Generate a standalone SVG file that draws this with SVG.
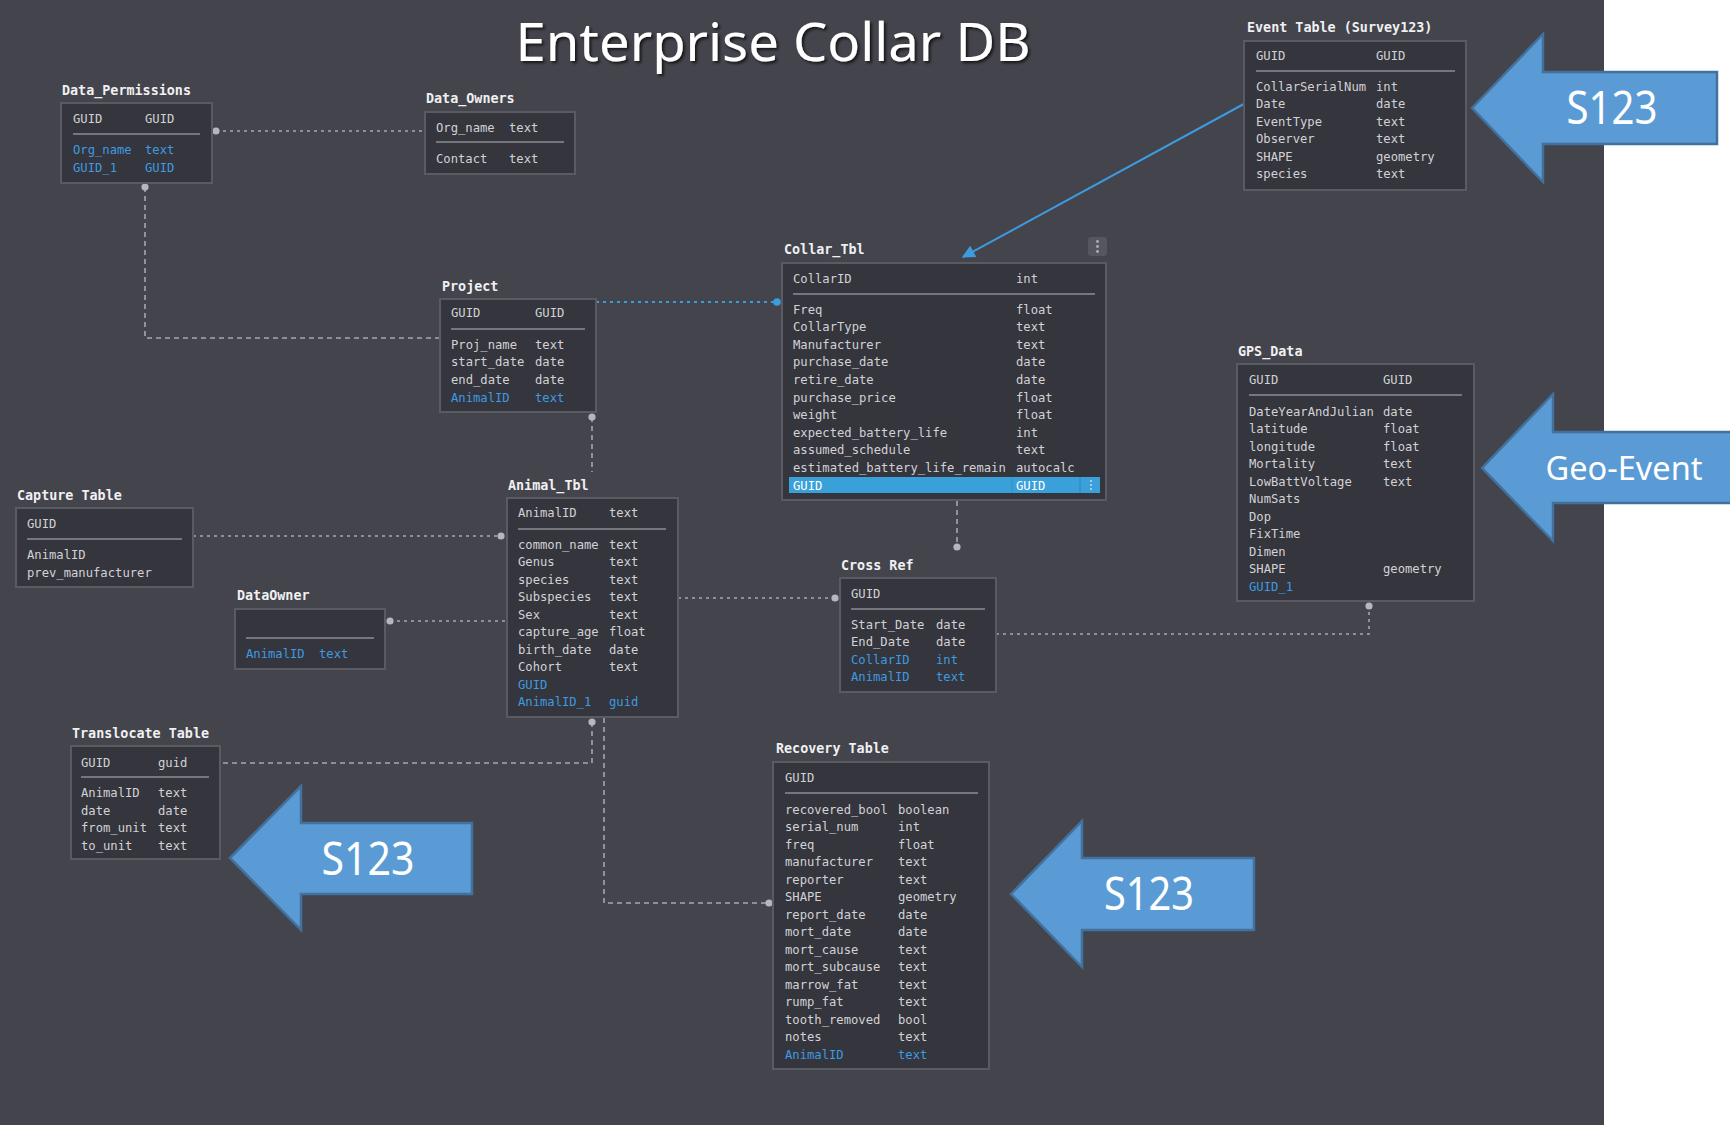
<svg xmlns="http://www.w3.org/2000/svg" width="1730" height="1125" viewBox="0 0 1730 1125">
<defs>
<style>
.bg{fill:#44444c}
.box{fill:#35353d;stroke:#5a5a63;stroke-width:2}
.sep{stroke:#76767e;stroke-width:2}
.lbl{font-family:"DejaVu Sans Mono","Liberation Mono",monospace;font-size:13.4px;font-weight:bold;fill:#f0f0f2}
.t{font-family:"DejaVu Sans Mono","Liberation Mono",monospace;font-size:12.2px;fill:#d2d2d6}
.b{fill:#3d9be0}
.w{fill:#ffffff}
.con{fill:none;stroke:#a6a6ae;stroke-width:1.6;stroke-dasharray:3 4}
.conv{fill:none;stroke:#a6a6ae;stroke-width:1.6;stroke-dasharray:5 4}
.conb{fill:none;stroke:#3d9be0;stroke-width:1.8;stroke-dasharray:3 4}
.dot{fill:#b6b6be}
.arrow{fill:#5b9bd5;stroke:#41719c;stroke-width:2.5}
.big{font-family:"Noto Sans","Open Sans",sans-serif;fill:#ffffff;text-anchor:middle}
</style>
<filter id="sh" x="-10%" y="-30%" width="120%" height="160%">
<feDropShadow dx="2" dy="2" stdDeviation="1.5" flood-color="#000" flood-opacity="0.7"/>
</filter>
<marker id="ah" viewBox="0 0 10 10" refX="9" refY="5" markerWidth="15" markerHeight="13" orient="auto" markerUnits="userSpaceOnUse">
<path d="M0,0 L10,5 L0,10 z" fill="#3d9be0"/>
</marker>
</defs>
<rect x="0" y="0" width="1730" height="1125" fill="#ffffff"/>
<rect class="bg" x="0" y="0" width="1604" height="1125"/>

<text class="big" x="773" y="61" font-size="53" textLength="515" lengthAdjust="spacingAndGlyphs" filter="url(#sh)">Enterprise Collar DB</text>

<g id="connectors">
<path class="con" d="M216,131 H424"/>
<circle class="dot" cx="216" cy="131" r="3.6"/>
<path class="conv" d="M145,187 V338 H440"/>
<circle class="dot" cx="145" cy="187" r="3.6"/>
<path class="conb" d="M596,302 H777"/>
<circle cx="777" cy="302" r="3.8" fill="#3d9be0"/>
<path class="conv" d="M592,417 V472"/>
<circle class="dot" cx="592" cy="417" r="3.6"/>
<path class="con" d="M193,536 H501"/>
<circle class="dot" cx="501" cy="536" r="3.6"/>
<path class="con" d="M390,621 H507"/>
<circle class="dot" cx="390" cy="621" r="3.6"/>
<path class="con" d="M678,598 H835"/>
<circle class="dot" cx="835" cy="598" r="3.6"/>
<path class="conv" d="M957,501 V547"/>
<circle class="dot" cx="957" cy="547" r="3.6"/>
<path class="con" d="M996,634 H1369 V606"/>
<circle class="dot" cx="1369" cy="606" r="3.6"/>
<path class="conv" d="M592,722 V763 H220"/>
<circle class="dot" cx="592" cy="722" r="3.6"/>
<path class="conv" d="M604,718 V903 H769"/>
<circle class="dot" cx="769" cy="903" r="3.6"/>
<path d="M1253,99 L963,257" stroke="#3d9be0" stroke-width="2" fill="none" marker-end="url(#ah)"/>
</g>

<g id="Data_Permissions">
<text class="lbl" x="62" y="95">Data_Permissions</text>
<rect class="box" x="61" y="103" width="151" height="80"/>
<text class="t" x="73" y="122.5">GUID</text><text class="t" x="145" y="122.5">GUID</text>
<line class="sep" x1="73" y1="134" x2="200" y2="134"/>
<text class="t b" x="73" y="153.5">Org_name</text><text class="t b" x="145" y="153.5">text</text>
<text class="t b" x="73" y="171.5">GUID_1</text><text class="t b" x="145" y="171.5">GUID</text>
</g>

<g id="Data_Owners">
<text class="lbl" x="426" y="103">Data_Owners</text>
<rect class="box" x="425" y="112" width="150" height="62"/>
<text class="t" x="436" y="131.5">Org_name</text><text class="t" x="509" y="131.5">text</text>
<line class="sep" x1="436" y1="142" x2="564" y2="142"/>
<text class="t" x="436" y="162.5">Contact</text><text class="t" x="509" y="162.5">text</text>
</g>

<g id="Project">
<text class="lbl" x="442" y="291">Project</text>
<rect class="box" x="440" y="299" width="156" height="113"/>
<text class="t" x="451" y="316.5">GUID</text><text class="t" x="535" y="316.5">GUID</text>
<line class="sep" x1="451" y1="329" x2="585" y2="329"/>
<text class="t" x="451" y="348.5">Proj_name</text><text class="t" x="535" y="348.5">text</text>
<text class="t" x="451" y="365.5">start_date</text><text class="t" x="535" y="365.5">date</text>
<text class="t" x="451" y="383.5">end_date</text><text class="t" x="535" y="383.5">date</text>
<text class="t b" x="451" y="401.5">AnimalID</text><text class="t b" x="535" y="401.5">text</text>
</g>

<g id="Collar_Tbl">
<text class="lbl" x="784" y="254">Collar_Tbl</text>
<rect x="1088" y="237" width="19" height="19" rx="3" fill="#56565f"/>
<circle cx="1097.5" cy="241.5" r="1.4" fill="#b0b0b8"/><circle cx="1097.5" cy="246.5" r="1.4" fill="#b0b0b8"/><circle cx="1097.5" cy="251.5" r="1.4" fill="#b0b0b8"/>
<rect class="box" x="782" y="263" width="324" height="237"/>
<text class="t" x="793" y="282.5">CollarID</text><text class="t" x="1016" y="282.5">int</text>
<line class="sep" x1="793" y1="294" x2="1095" y2="294"/>
<text class="t" x="793" y="313.5">Freq</text><text class="t" x="1016" y="313.5">float</text>
<text class="t" x="793" y="330.5">CollarType</text><text class="t" x="1016" y="330.5">text</text>
<text class="t" x="793" y="348.5">Manufacturer</text><text class="t" x="1016" y="348.5">text</text>
<text class="t" x="793" y="365.5">purchase_date</text><text class="t" x="1016" y="365.5">date</text>
<text class="t" x="793" y="383.5">retire_date</text><text class="t" x="1016" y="383.5">date</text>
<text class="t" x="793" y="401.5">purchase_price</text><text class="t" x="1016" y="401.5">float</text>
<text class="t" x="793" y="418.5">weight</text><text class="t" x="1016" y="418.5">float</text>
<text class="t" x="793" y="436.5">expected_battery_life</text><text class="t" x="1016" y="436.5">int</text>
<text class="t" x="793" y="453.5">assumed_schedule</text><text class="t" x="1016" y="453.5">text</text>
<text class="t" x="793" y="471.5">estimated_battery_life_remain</text><text class="t" x="1016" y="471.5">autocalc</text>
<rect x="789" y="477" width="311" height="16" fill="#3aa0da"/>
<line x1="1012" y1="477" x2="1012" y2="493" stroke="#3490c8" stroke-width="1"/>
<line x1="1080" y1="477" x2="1080" y2="493" stroke="#2f86bc" stroke-width="1"/>
<circle cx="1091" cy="481" r="0.9" fill="#cfe8f7"/><circle cx="1091" cy="485" r="0.9" fill="#cfe8f7"/><circle cx="1091" cy="489" r="0.9" fill="#cfe8f7"/>
<text class="t w" x="793" y="489.5">GUID</text><text class="t w" x="1016" y="489.5">GUID</text>
</g>

<g id="Event_Table">
<text class="lbl" x="1247" y="32">Event Table (Survey123)</text>
<rect class="box" x="1244" y="41" width="222" height="149"/>
<text class="t" x="1256" y="59.5">GUID</text><text class="t" x="1376" y="59.5">GUID</text>
<line class="sep" x1="1256" y1="71" x2="1455" y2="71"/>
<text class="t" x="1256" y="90.5">CollarSerialNum</text><text class="t" x="1376" y="90.5">int</text>
<text class="t" x="1256" y="108">Date</text><text class="t" x="1376" y="108">date</text>
<text class="t" x="1256" y="125.5">EventType</text><text class="t" x="1376" y="125.5">text</text>
<text class="t" x="1256" y="143">Observer</text><text class="t" x="1376" y="143">text</text>
<text class="t" x="1256" y="160.5">SHAPE</text><text class="t" x="1376" y="160.5">geometry</text>
<text class="t" x="1256" y="178">species</text><text class="t" x="1376" y="178">text</text>
</g>

<g id="GPS_Data">
<text class="lbl" x="1238" y="356">GPS_Data</text>
<rect class="box" x="1237" y="364" width="237" height="237"/>
<text class="t" x="1249" y="383.5">GUID</text><text class="t" x="1383" y="383.5">GUID</text>
<line class="sep" x1="1249" y1="395" x2="1462" y2="395"/>
<text class="t" x="1249" y="415.5">DateYearAndJulian</text><text class="t" x="1383" y="415.5">date</text>
<text class="t" x="1249" y="433">latitude</text><text class="t" x="1383" y="433">float</text>
<text class="t" x="1249" y="450.5">longitude</text><text class="t" x="1383" y="450.5">float</text>
<text class="t" x="1249" y="468">Mortality</text><text class="t" x="1383" y="468">text</text>
<text class="t" x="1249" y="485.5">LowBattVoltage</text><text class="t" x="1383" y="485.5">text</text>
<text class="t" x="1249" y="503">NumSats</text>
<text class="t" x="1249" y="520.5">Dop</text>
<text class="t" x="1249" y="538">FixTime</text>
<text class="t" x="1249" y="555.5">Dimen</text>
<text class="t" x="1249" y="573">SHAPE</text><text class="t" x="1383" y="573">geometry</text>
<text class="t b" x="1249" y="590.5">GUID_1</text>
</g>

<g id="Capture_Table">
<text class="lbl" x="17" y="500">Capture Table</text>
<rect class="box" x="16" y="508" width="177" height="79"/>
<text class="t" x="27" y="527.5">GUID</text>
<line class="sep" x1="27" y1="539" x2="182" y2="539"/>
<text class="t" x="27" y="558.5">AnimalID</text>
<text class="t" x="27" y="576.5">prev_manufacturer</text>
</g>

<g id="DataOwner">
<text class="lbl" x="237" y="600">DataOwner</text>
<rect class="box" x="235" y="609" width="150" height="60"/>
<line class="sep" x1="246" y1="638" x2="374" y2="638"/>
<text class="t b" x="246" y="657.5">AnimalID</text><text class="t b" x="319" y="657.5">text</text>
</g>

<g id="Animal_Tbl">
<text class="lbl" x="508" y="490">Animal_Tbl</text>
<rect class="box" x="507" y="498" width="171" height="219"/>
<text class="t" x="518" y="516.5">AnimalID</text><text class="t" x="609" y="516.5">text</text>
<line class="sep" x1="518" y1="529" x2="666" y2="529"/>
<text class="t" x="518" y="548.5">common_name</text><text class="t" x="609" y="548.5">text</text>
<text class="t" x="518" y="566">Genus</text><text class="t" x="609" y="566">text</text>
<text class="t" x="518" y="583.5">species</text><text class="t" x="609" y="583.5">text</text>
<text class="t" x="518" y="601">Subspecies</text><text class="t" x="609" y="601">text</text>
<text class="t" x="518" y="618.5">Sex</text><text class="t" x="609" y="618.5">text</text>
<text class="t" x="518" y="636">capture_age</text><text class="t" x="609" y="636">float</text>
<text class="t" x="518" y="653.5">birth_date</text><text class="t" x="609" y="653.5">date</text>
<text class="t" x="518" y="671">Cohort</text><text class="t" x="609" y="671">text</text>
<text class="t b" x="518" y="688.5">GUID</text>
<text class="t b" x="518" y="706">AnimalID_1</text><text class="t b" x="609" y="706">guid</text>
</g>

<g id="Cross_Ref">
<text class="lbl" x="841" y="570">Cross Ref</text>
<rect class="box" x="840" y="578" width="156" height="114"/>
<text class="t" x="851" y="597.5">GUID</text>
<line class="sep" x1="851" y1="609" x2="985" y2="609"/>
<text class="t" x="851" y="628.5">Start_Date</text><text class="t" x="936" y="628.5">date</text>
<text class="t" x="851" y="646">End_Date</text><text class="t" x="936" y="646">date</text>
<text class="t b" x="851" y="663.5">CollarID</text><text class="t b" x="936" y="663.5">int</text>
<text class="t b" x="851" y="681">AnimalID</text><text class="t b" x="936" y="681">text</text>
</g>

<g id="Translocate_Table">
<text class="lbl" x="72" y="738">Translocate Table</text>
<rect class="box" x="71" y="746" width="149" height="113"/>
<text class="t" x="81" y="766.5">GUID</text><text class="t" x="158" y="766.5">guid</text>
<line class="sep" x1="81" y1="777" x2="209" y2="777"/>
<text class="t" x="81" y="796.5">AnimalID</text><text class="t" x="158" y="796.5">text</text>
<text class="t" x="81" y="814.5">date</text><text class="t" x="158" y="814.5">date</text>
<text class="t" x="81" y="831.5">from_unit</text><text class="t" x="158" y="831.5">text</text>
<text class="t" x="81" y="849.5">to_unit</text><text class="t" x="158" y="849.5">text</text>
</g>

<g id="Recovery_Table">
<text class="lbl" x="776" y="753">Recovery Table</text>
<rect class="box" x="773" y="762" width="216" height="307"/>
<text class="t" x="785" y="781.5">GUID</text>
<line class="sep" x1="785" y1="793" x2="978" y2="793"/>
<text class="t" x="785" y="813.5">recovered_bool</text><text class="t" x="898" y="813.5">boolean</text>
<text class="t" x="785" y="831">serial_num</text><text class="t" x="898" y="831">int</text>
<text class="t" x="785" y="848.5">freq</text><text class="t" x="898" y="848.5">float</text>
<text class="t" x="785" y="866">manufacturer</text><text class="t" x="898" y="866">text</text>
<text class="t" x="785" y="883.5">reporter</text><text class="t" x="898" y="883.5">text</text>
<text class="t" x="785" y="901">SHAPE</text><text class="t" x="898" y="901">geometry</text>
<text class="t" x="785" y="918.5">report_date</text><text class="t" x="898" y="918.5">date</text>
<text class="t" x="785" y="936">mort_date</text><text class="t" x="898" y="936">date</text>
<text class="t" x="785" y="953.5">mort_cause</text><text class="t" x="898" y="953.5">text</text>
<text class="t" x="785" y="971">mort_subcause</text><text class="t" x="898" y="971">text</text>
<text class="t" x="785" y="988.5">marrow_fat</text><text class="t" x="898" y="988.5">text</text>
<text class="t" x="785" y="1006">rump_fat</text><text class="t" x="898" y="1006">text</text>
<text class="t" x="785" y="1023.5">tooth_removed</text><text class="t" x="898" y="1023.5">bool</text>
<text class="t" x="785" y="1041">notes</text><text class="t" x="898" y="1041">text</text>
<text class="t b" x="785" y="1058.5">AnimalID</text><text class="t b" x="898" y="1058.5">text</text>
</g>

<g id="Arrow_S123_top">
<path class="arrow" d="M1472,108 L1543,34 L1543,72 L1717,72 L1717,144 L1543,144 L1543,182 Z"/>
<text class="big" x="1612" y="124" font-size="45" textLength="91" lengthAdjust="spacingAndGlyphs">S123</text>
</g>
<g id="Arrow_GeoEvent">
<path class="arrow" d="M1482,468 L1553,394 L1553,432 L1740,432 L1740,503 L1553,503 L1553,541 Z"/>
<text class="big" x="1624" y="480" font-size="33" textLength="157" lengthAdjust="spacingAndGlyphs">Geo-Event</text>
</g>
<g id="Arrow_S123_left">
<path class="arrow" d="M230,858 L301,786 L301,823 L472,823 L472,894 L301,894 L301,930 Z"/>
<text class="big" x="368" y="875" font-size="45" textLength="93" lengthAdjust="spacingAndGlyphs">S123</text>
</g>
<g id="Arrow_S123_recovery">
<path class="arrow" d="M1011,894 L1082,821 L1082,858 L1254,858 L1254,930 L1082,930 L1082,967 Z"/>
<text class="big" x="1149" y="910" font-size="45" textLength="90" lengthAdjust="spacingAndGlyphs">S123</text>
</g>
</svg>
